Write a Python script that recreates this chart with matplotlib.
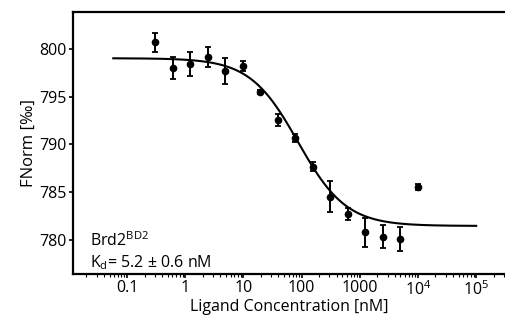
import numpy as np
import matplotlib
matplotlib.use("Agg")
import matplotlib.pyplot as plt
from matplotlib.ticker import FixedLocator, FixedFormatter, LogLocator, NullFormatter

plt.rcParams['font.family'] = ['Open Sans', 'DejaVu Sans']
plt.rcParams['mathtext.default'] = 'regular'

# ligand concentration [nM], 2-fold dilution series
conc = [0.305, 0.61, 1.22, 2.44, 4.88, 9.77, 19.5, 39.1, 78.1, 156, 313, 625, 1250, 2500, 5000, 10000]
fnorm = [800.70, 797.98, 798.40, 799.13, 797.73, 798.22, 795.53, 792.57,
         790.65, 787.68, 784.53, 782.72, 780.81, 780.35, 780.07, 785.52]
err = [1.0, 1.15, 1.25, 1.05, 1.35, 0.5, 0.2, 0.6, 0.4, 0.5, 1.6, 0.65, 1.5, 1.2, 1.25, 0.3]

# fit parameters (dose response)
fit_top = 799.03
fit_bottom = 781.47
fit_ec50 = 87.0
fit_hill = 1.05

xticks = [0.1, 1, 10, 100, 1000, 1e4, 1e5]
xticklabels = ['0.1', '1', '10', '100', '1000', '$10^4$', '$10^5$']
yticks = [780, 785, 790, 795, 800]

fig = plt.figure(figsize=(5.05, 3.29), dpi=100)
ax = fig.add_axes([0.1452, 0.1672, 0.8548, 0.7972])

cfit = np.logspace(np.log10(0.058), 5, 300)
yfit = fit_top + (fit_bottom - fit_top) * cfit**fit_hill / (cfit**fit_hill + fit_ec50**fit_hill)
ax.plot(cfit, yfit, color='black', lw=1.5)

ax.errorbar(conc, fnorm, yerr=err, fmt='o', color='black', ms=4.5,
            elinewidth=1.4, capsize=2.5, capthick=1.3)

ax.set_xscale('log')
ax.set_xlim(0.01194, 3.13e5)
ax.set_ylim(776.44, 803.9)

ax.xaxis.set_major_locator(FixedLocator(xticks))
ax.xaxis.set_major_formatter(FixedFormatter(xticklabels))
ax.xaxis.set_minor_locator(LogLocator(base=10, subs=np.arange(2, 10), numticks=20))
ax.xaxis.set_minor_formatter(NullFormatter())
ax.set_yticks(yticks)

for s in ['top', 'left', 'bottom']:
    ax.spines[s].set_linewidth(1.6)
ax.spines['right'].set_visible(False)

ax.tick_params(axis='both', which='major', direction='out', length=3, width=1.2,
               labelsize=11.5, pad=1.5)
ax.tick_params(axis='x', which='minor', direction='out', length=2, width=0.8)

ax.set_xlabel('Ligand Concentration [nM]', fontsize=11.5, labelpad=0)
ax.set_ylabel('FNorm [‰]', fontsize=12, labelpad=2)

ax.text(0.038, 0.128, 'Brd2$^{BD2}$', transform=ax.transAxes, fontsize=11.5, va='center')
ax.text(0.038, 0.045, 'K$_d$= 5.2 ± 0.6 nM', transform=ax.transAxes, fontsize=11.5, va='center')

fig.savefig('out.png', dpi=100)
